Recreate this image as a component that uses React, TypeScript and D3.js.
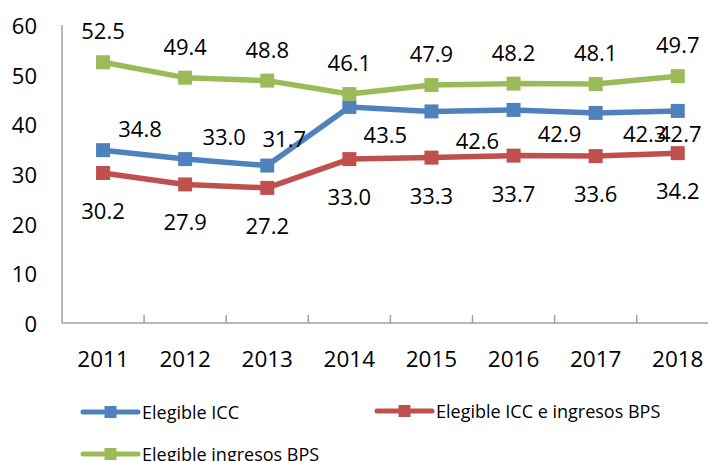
import React from "react";
import * as d3 from "d3";

const years = ["2011", "2012", "2013", "2014", "2015", "2016", "2017", "2018"];
const elegibleICC = [34.8, 33.0, 31.7, 43.5, 42.6, 42.9, 42.3, 42.7];
const elegibleICCBPS = [30.2, 27.9, 27.2, 33.0, 33.3, 33.7, 33.6, 34.2];
const elegibleBPS = [52.5, 49.4, 48.8, 46.1, 47.9, 48.2, 48.1, 49.7];
const yTicks = [0, 10, 20, 30, 40, 50, 60];
const seriesNames = ["Elegible ICC", "Elegible ICC e ingresos BPS", "Elegible ingresos BPS"];
const seriesColors = ["#4F81BD", "#C0504D", "#9BBB59"];
// label placement offsets (px) relative to each point
const blueLabelOffsets: [number, number][] = [
  [37, -22], [39, -23], [17, -28], [36, 27], [46, 29], [46, 23], [49, 20], [2, 22],
];
const redLabelOffset: [number, number] = [0, 37];
const greenLabelOffset: [number, number] = [0, -32];

const W = 708;
const H = 461;
const left = 62;
const bandW = 82.1;
const top = 25;
const bottom = 323;
const FONT = "'Open Sans', sans-serif";

export default function App() {
  const x = d3
    .scaleBand<string>()
    .domain(years)
    .range([left, left + bandW * years.length])
    .paddingInner(0)
    .paddingOuter(0);
  const y = d3.scaleLinear().domain([0, 60]).range([bottom, top]);
  const cx = (yr: string) => (x(yr) as number) + x.bandwidth() / 2;

  const series = [
    { name: seriesNames[0], color: seriesColors[0], values: elegibleICC, offsets: blueLabelOffsets },
    { name: seriesNames[1], color: seriesColors[1], values: elegibleICCBPS, offsets: years.map(() => redLabelOffset) },
    { name: seriesNames[2], color: seriesColors[2], values: elegibleBPS, offsets: years.map(() => greenLabelOffset) },
  ];

  const line = d3
    .line<number>()
    .x((_, i) => cx(years[i]))
    .y((d) => y(d));

  const ms = 14;
  const legendItems = [
    { x: 83, y: 412, i: 0 },
    { x: 377, y: 411, i: 1 },
    { x: 83, y: 454, i: 2 },
  ];

  return (
    <svg
      width={W}
      height={H}
      style={{ position: "absolute", left: 0, top: 0, background: "#fff" }}
      fontFamily={FONT}
    >
      <rect x={0} y={0} width={W} height={H} fill="#fff" />
      {/* y axis */}
      <line x1={left} x2={left} y1={top} y2={bottom} stroke="#A0A0A0" strokeWidth={1.5} />
      {yTicks.map((t) => (
        <text
          key={t}
          x={37}
          y={y(t)}
          textAnchor="end"
          dominantBaseline="central"
          fontSize={22}
          fill="#000"
        >
          {t}
        </text>
      ))}
      {/* x axis */}
      <line x1={left} x2={left + bandW * years.length} y1={bottom} y2={bottom} stroke="#A0A0A0" strokeWidth={1.5} />
      {years.slice(1).map((yr) => (
        <line
          key={yr}
          x1={x(yr) as number}
          x2={x(yr) as number}
          y1={bottom}
          y2={bottom - 8}
          stroke="#A0A0A0"
          strokeWidth={1.5}
        />
      ))}
      {years.map((yr) => (
        <text key={yr} x={cx(yr)} y={358} textAnchor="middle" dominantBaseline="central" fontSize={22.5} fill="#000">
          {yr}
        </text>
      ))}
      {/* series */}
      {series.map((s) => (
        <g key={s.name}>
          <path d={line(s.values) || ""} fill="none" stroke={s.color} strokeWidth={5.5} strokeLinejoin="round" />
          {s.values.map((v, i) => (
            <rect
              key={i}
              x={cx(years[i]) - ms / 2}
              y={y(v) - ms / 2}
              width={ms}
              height={ms}
              fill={s.color}
            />
          ))}
        </g>
      ))}
      {series.map((s) =>
        s.values.map((v, i) => (
          <text
            key={s.name + i}
            x={cx(years[i]) + s.offsets[i][0]}
            y={y(v) + s.offsets[i][1]}
            textAnchor="middle"
            dominantBaseline="central"
            fontSize={22}
            fill="#000"
          >
            {v.toFixed(1)}
          </text>
        ))
      )}
      {/* legend */}
      {legendItems.map((it) => (
        <g key={it.i}>
          <line
            x1={it.x}
            x2={it.x + 55}
            y1={it.y}
            y2={it.y}
            stroke={seriesColors[it.i]}
            strokeWidth={5}
            strokeLinecap="round"
          />
          <rect x={it.x + 27.5 - 6} y={it.y - 6} width={12} height={12} fill={seriesColors[it.i]} />
          <text x={it.x + 59} y={it.y} dominantBaseline="central" fontSize={18} fill="#000">
            {seriesNames[it.i]}
          </text>
        </g>
      ))}
    </svg>
  );
}
